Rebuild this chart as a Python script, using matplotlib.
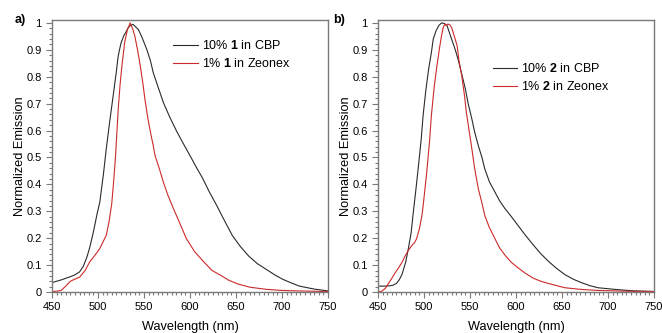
import matplotlib
matplotlib.use("Agg")
import matplotlib.pyplot as plt
from matplotlib.ticker import MultipleLocator

plt.rcParams['font.family'] = ['Liberation Sans', 'DejaVu Sans']
plt.rcParams['mathtext.fontset'] = 'custom'
plt.rcParams['mathtext.rm'] = 'Liberation Sans'
plt.rcParams['mathtext.bf'] = 'Liberation Sans:bold'

# panel a) compound 1
wl_a_cbp = [450, 460, 470, 475, 480, 484, 488, 491, 495, 499, 502, 506, 509, 513, 517, 520, 522,
            525, 528, 531, 533, 535, 538, 541, 544, 548, 553, 557, 560, 565, 571, 578, 586, 593,
            600, 607, 614, 621, 629, 636, 642, 646, 655, 664, 673, 683, 692, 701, 710, 719, 735,
            750]
em_a_cbp = [0.035, 0.045, 0.057, 0.064, 0.075, 0.095, 0.13, 0.165, 0.223, 0.29, 0.334, 0.44,
            0.532, 0.64, 0.742, 0.82, 0.878, 0.925, 0.952, 0.97, 0.983, 0.99, 0.995, 0.985,
            0.975, 0.945, 0.902, 0.86, 0.816, 0.765, 0.705, 0.65, 0.594, 0.55, 0.507, 0.463,
            0.421, 0.372, 0.322, 0.275, 0.236, 0.21, 0.168, 0.133, 0.106, 0.084, 0.064, 0.047,
            0.034, 0.022, 0.011, 0.004]
wl_a_zeo = [450, 455, 460, 465, 470, 475, 480, 486, 491, 497, 502, 506, 509, 512, 515, 517, 519,
            522, 524, 526, 529, 532, 535, 538, 540, 543, 546, 549, 551, 554, 557, 560, 562, 567,
            571, 576, 582, 589, 596, 605, 615, 624, 633, 642, 652, 665, 683, 700, 719, 750]
em_a_zeo = [0.002, 0.003, 0.006, 0.022, 0.04, 0.048, 0.055, 0.08, 0.112, 0.138, 0.162, 0.19,
            0.211, 0.26, 0.33, 0.41, 0.5, 0.68, 0.77, 0.84, 0.927, 0.975, 1.0, 0.975, 0.952,
            0.9, 0.84, 0.77, 0.717, 0.65, 0.594, 0.545, 0.507, 0.455, 0.409, 0.36, 0.31, 0.255,
            0.199, 0.15, 0.112, 0.08, 0.063, 0.044, 0.03, 0.018, 0.01, 0.006, 0.004, 0.002]

# panel b) compound 2
wl_b_cbp = [450, 458, 462, 466, 470, 473, 476, 480, 483, 486, 488, 491, 494, 497, 499, 502, 505,
            508, 510, 513, 516, 519, 522, 525, 528, 530, 534, 537, 541, 545, 548, 552, 555, 559,
            563, 566, 571, 577, 582, 588, 595, 602, 610, 619, 627, 635, 644, 653, 662, 671, 680,
            689, 707, 725, 750]
em_b_cbp = [0.022, 0.022, 0.023, 0.025, 0.032, 0.045, 0.065, 0.11, 0.162, 0.22, 0.285, 0.375,
            0.47, 0.57, 0.656, 0.75, 0.828, 0.89, 0.94, 0.97, 0.99, 1.0, 0.998, 0.99, 0.96,
            0.94, 0.9, 0.865, 0.81, 0.754, 0.7, 0.643, 0.595, 0.544, 0.5, 0.458, 0.41, 0.372,
            0.34, 0.31, 0.28, 0.248, 0.212, 0.174, 0.142, 0.115, 0.088, 0.065, 0.048, 0.035,
            0.024, 0.016, 0.01, 0.005, 0.002]
wl_b_zeo = [450, 454, 458, 461, 465, 468, 472, 476, 479, 483, 487, 490, 492, 495, 498, 500, 503,
            506, 508, 511, 514, 517, 519, 521, 523, 524, 526, 528, 530, 533, 536, 538, 541, 544,
            546, 549, 552, 555, 559, 563, 566, 571, 577, 582, 588, 595, 603, 610, 619, 627, 635,
            644, 653, 670, 689, 720, 750]
em_b_zeo = [0.0, 0.003, 0.014, 0.03, 0.051, 0.068, 0.088, 0.11, 0.131, 0.155, 0.174, 0.185,
            0.199, 0.235, 0.29, 0.35, 0.446, 0.56, 0.656, 0.76, 0.84, 0.91, 0.952, 0.985, 0.996,
            0.99, 0.996, 0.993, 0.983, 0.95, 0.915, 0.86, 0.804, 0.73, 0.668, 0.6, 0.532, 0.46,
            0.384, 0.33, 0.285, 0.24, 0.199, 0.165, 0.137, 0.11, 0.088, 0.07, 0.051, 0.04, 0.032,
            0.024, 0.016, 0.01, 0.006, 0.003, 0.002]

yticks = [0, 0.1, 0.2, 0.3, 0.4, 0.5, 0.6, 0.7, 0.8, 0.9, 1]
ytick_labels = ['0', '0.1', '0.2', '0.3', '0.4', '0.5', '0.6', '0.7', '0.8', '0.9', '1']

black = '#2b2b2b'
red = '#cc2a2a'
frame = '#7a7a7a'

fig = plt.figure(figsize=(6.62, 3.33), dpi=100)
ax1 = fig.add_axes([0.0785, 0.123, 0.417, 0.817])
ax2 = fig.add_axes([0.571, 0.123, 0.417, 0.817])

panels = [
    (ax1, wl_a_cbp, em_a_cbp, wl_a_zeo, em_a_zeo, '1', 'a)', (0.44, 0.93), (-0.115, 1.0)),
    (ax2, wl_b_cbp, em_b_cbp, wl_b_zeo, em_b_zeo, '2', 'b)', (0.415, 0.845), (-0.14, 1.0)),
]

for ax, x1, y1, x2, y2, num, tag, lpos, tpos in panels:
    ax.plot(x1, y1, color=black, lw=0.8, label='10% $\\mathbf{' + num + '}$ in CBP')
    ax.plot(x2, y2, color=red, lw=0.8, label='1% $\\mathbf{' + num + '}$ in Zeonex')
    ax.set_xlim(450, 750)
    ax.set_ylim(0, 1.011)
    ax.set_xticks([450, 500, 550, 600, 650, 700, 750])
    ax.set_yticks(yticks)
    ax.set_yticklabels(ytick_labels)
    ax.xaxis.set_minor_locator(MultipleLocator(5))
    ax.yaxis.set_minor_locator(MultipleLocator(0.02))
    ax.tick_params(which='both', direction='out', color=frame, labelsize=8, width=0.8)
    ax.tick_params(which='major', length=4)
    ax.tick_params(which='minor', length=2)
    for s in ax.spines.values():
        s.set_color(frame)
        s.set_linewidth(1.0)
    ax.set_xlabel('Wavelength (nm)', fontsize=9.2, labelpad=6)
    ax.set_ylabel('Normalized Emission', fontsize=9.2, labelpad=0)
    ax.legend(loc='upper left', bbox_to_anchor=lpos, frameon=False, fontsize=9,
              handlelength=1.95, handletextpad=0.3, labelspacing=0.4, borderpad=0,
              borderaxespad=0)
    ax.text(tpos[0], tpos[1], tag, transform=ax.transAxes, fontsize=9, fontweight='bold',
            ha='center', va='center')

fig.savefig('out.png', dpi=100)
